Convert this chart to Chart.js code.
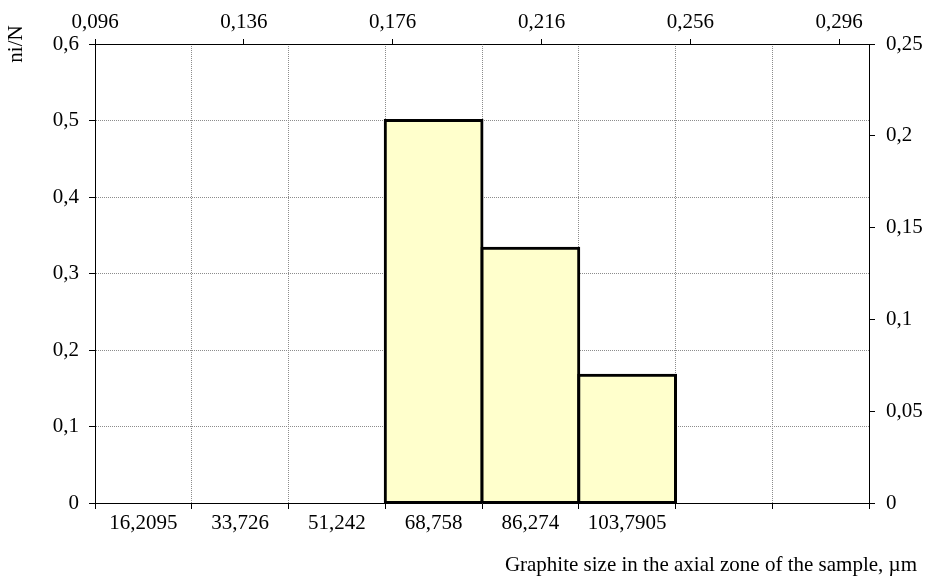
<!DOCTYPE html>
<html>
<head>
<meta charset="utf-8">
<script src="https://cdn.jsdelivr.net/npm/chart.js@4/dist/chart.umd.min.js"></script>
<style>
  html, body { margin: 0; padding: 0; background: #fff; }
  #wrap { width: 925px; height: 580px; }
</style>
</head>
<body>
<div id="wrap"><canvas id="chart"></canvas></div>
<script>
// Size classes of graphite inclusions (bin labels, µm)
const sizeClasses = ['16,2095', '33,726', '51,242', '68,758', '86,274', '103,7905', '', ''];
// Relative frequency ni/N of each class (empty classes have no bar)
const shares = [null, null, null, 0.5, 0.333, 0.167, null, null];

// Secondary (top) axis: range and labelled ticks
const topMin = 0.096;
const topMax = 0.304;
const topTicks = [0.096, 0.136, 0.176, 0.216, 0.256, 0.296];
const topTickLabels = ['0,096', '0,136', '0,176', '0,216', '0,256', '0,296'];

// Left and right value axes
const leftMax = 0.6, leftStep = 0.1;
const rightMax = 0.25, rightStep = 0.05;

const xTitle = 'Graphite size in the axial zone of the sample, \u00b5m';
const yTitle = 'ni/N';

const FONT = 'Liberation Serif, Times New Roman, serif';
const FS = 21;
const gridGray = '#8c8c8c';

const comma = (v) => String(Math.round(v * 1000) / 1000).replace('.', ',');

// Axis captions drawn outside the scale boxes
const axisCaptions = {
  id: 'axisCaptions',
  afterDraw(chart) {
    const { ctx, chartArea } = chart;
    ctx.save();
    ctx.fillStyle = '#000';
    ctx.font = FS + 'px ' + FONT;
    ctx.textAlign = 'right';
    ctx.textBaseline = 'alphabetic';
    ctx.fillText(xTitle, chart.width - 8, chart.height - 9);
    ctx.translate(22, chartArea.top);
    ctx.rotate(-Math.PI / 2);
    ctx.textAlign = 'center';
    ctx.fillText(yTitle, 0, 0);
    ctx.restore();
  }
};

new Chart(document.getElementById('chart'), {
  type: 'bar',
  data: {
    labels: sizeClasses,
    datasets: [{
      data: shares,
      xAxisID: 'x',
      yAxisID: 'y',
      backgroundColor: '#ffffcc',
      borderColor: '#000',
      borderWidth: 3,
      borderSkipped: false,
      inflateAmount: 1.5,
      categoryPercentage: 1,
      barPercentage: 1
    }]
  },
  options: {
    responsive: true,
    maintainAspectRatio: false,
    animation: false,
    layout: { padding: 0 },
    plugins: { legend: { display: false }, tooltip: { enabled: false } },
    scales: {
      x: {
        type: 'category',
        position: 'bottom',
        offset: true,
        grid: { offset: true, color: gridGray, lineWidth: 1, tickLength: 6, tickColor: '#000', tickBorderDash: [] },
        border: { color: '#000', width: 1, dash: [1, 1] },
        ticks: { color: '#000', font: { family: FONT, size: FS }, padding: 2, maxRotation: 0, autoSkip: false },
        afterFit: (s) => { s.height = 77; }
      },
      xTop: {
        type: 'linear',
        position: 'top',
        min: topMin,
        max: topMax,
        offset: false,
        grid: { offset: false, drawOnChartArea: false, tickLength: 5, tickColor: '#000', color: '#000' },
        border: { color: '#000', width: 1 },
        afterBuildTicks: (s) => { s.ticks = topTicks.map(v => ({ value: v })); },
        ticks: {
          color: '#000', font: { family: FONT, size: FS }, padding: 4, maxRotation: 0, autoSkip: false,
          callback: (v) => topTickLabels[topTicks.indexOf(v)]
        },
        afterFit: (s) => { s.height = 44; }
      },
      y: {
        position: 'left',
        min: 0,
        max: leftMax,
        grid: { color: gridGray, lineWidth: 1, tickLength: 6, tickColor: '#000', tickBorderDash: [] },
        border: { color: '#000', width: 1, dash: [1, 1] },
        ticks: { stepSize: leftStep, color: '#000', font: { family: FONT, size: FS }, padding: 10, callback: comma },
        afterFit: (s) => { s.width = 95; }
      },
      y2: {
        position: 'right',
        min: 0,
        max: rightMax,
        grid: { drawOnChartArea: false, tickLength: 6, tickColor: '#000', color: '#000' },
        border: { color: '#000', width: 1 },
        ticks: { stepSize: rightStep, color: '#000', font: { family: FONT, size: FS }, padding: 11, callback: comma },
        afterFit: (s) => { s.width = 56; }
      }
    }
  },
  plugins: [axisCaptions]
});
</script>
</body>
</html>
